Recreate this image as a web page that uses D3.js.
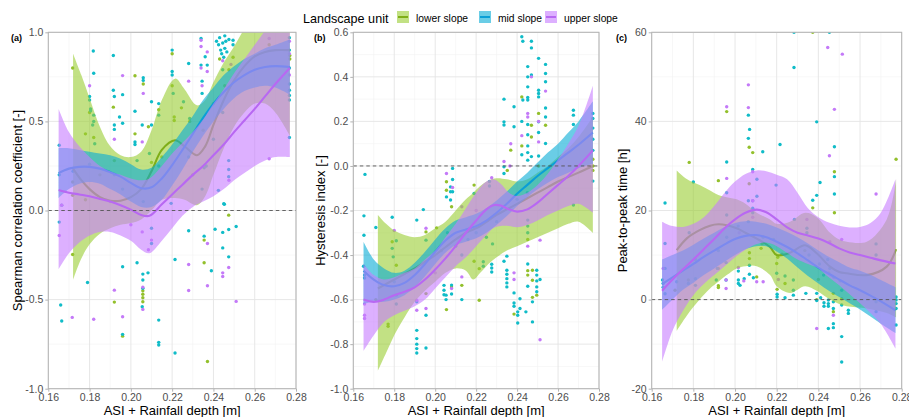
<!DOCTYPE html>
<html>
<head>
<meta charset="utf-8">
<script src="https://cdn.jsdelivr.net/npm/d3@7"></script>
<style>
  body { margin: 0; background: #fff; }
  svg { font-family: 'Liberation Sans', Arial, sans-serif; }
</style>
</head>
<body>
<div id="chart"></div>
<script>
'use strict';

// ---- data ----
const units = ['lower slope', 'mid slope', 'upper slope']
const xTicks = [0.16, 0.18, 0.20, 0.22, 0.24, 0.26, 0.28]
const yTicksA = [-1.0, -0.5, 0.0, 0.5, 1.0]
const yTicksB = [-1.0, -0.8, -0.6, -0.4, -0.2, 0.0, 0.2, 0.4, 0.6]
const yTicksC = [-20, 0, 20, 40, 60]

// points [x, y]
const ptsA_lower = [[0.1718,0.80],[0.180,0.55],[0.178,0.43],[0.182,0.41],[0.1915,0.58],[0.202,0.756],[0.202,0.43],[0.206,0.71],[0.2085,0.47],[0.2135,0.565],[0.22,0.88],[0.22,0.70],[0.221,0.525],[0.221,0.505],[0.2245,0.576],[0.2285,0.50],[0.243,0.85],[0.2475,0.79],[0.2495,0.86],[0.267,0.93],[0.277,0.87],[0.277,0.85],[0.1718,0.16],[0.1718,0.085],[0.1718,-0.247],[0.178,0.06],[0.192,-0.514],[0.196,-0.705],[0.2058,-0.45],[0.2058,-0.47],[0.2058,-0.49],[0.2058,-0.512],[0.2355,-0.166],[0.2355,-0.293],[0.2371,-0.847],[0.2474,-0.026],[0.21,0.27],[0.215,0.3],[0.192,0.28],[0.185,0.2],[0.23,0.2],[0.235,0.45],[0.24,0.6],[0.2455,0.7]]
const ptsA_mid = [[0.1653,0.366],[0.1653,-0.065],[0.166,-0.53],[0.1665,-0.62],[0.1818,0.895],[0.182,0.77],[0.180,0.64],[0.180,0.62],[0.1805,0.57],[0.1805,0.56],[0.182,0.535],[0.182,0.50],[0.1815,0.48],[0.1825,0.375],[0.179,-0.404],[0.1915,0.87],[0.1915,0.675],[0.192,0.64],[0.196,0.65],[0.1945,0.525],[0.192,0.48],[0.192,0.455],[0.196,0.49],[0.196,-0.316],[0.196,-0.695],[0.202,0.557],[0.202,0.385],[0.202,0.37],[0.203,-0.293],[0.206,0.745],[0.206,0.73],[0.2055,0.48],[0.2058,-0.357],[0.2058,-0.39],[0.2058,-0.437],[0.2055,-0.54],[0.2083,-0.35],[0.21,0.61],[0.21,0.48],[0.21,-0.185],[0.21,-0.1],[0.2135,0.60],[0.2135,0.535],[0.2135,-0.615],[0.2135,-0.74],[0.2135,-0.755],[0.22,0.90],[0.22,0.78],[0.22,0.76],[0.2205,0.657],[0.2214,-0.275],[0.2214,-0.80],[0.2255,0.61],[0.228,0.825],[0.2285,0.516],[0.228,-0.114],[0.234,0.965],[0.234,0.816],[0.2345,0.726],[0.2345,0.657],[0.2355,-0.144],[0.237,0.816],[0.236,0.863],[0.239,-0.338],[0.2408,-0.105],[0.2415,0.95],[0.2425,0.93],[0.243,0.97],[0.2435,0.90],[0.244,0.88],[0.2445,0.94],[0.245,0.86],[0.2455,0.98],[0.2455,0.91],[0.246,0.95],[0.2465,0.89],[0.2475,0.96],[0.2495,0.955],[0.2495,0.93],[0.2445,0.79],[0.2445,-0.123],[0.2445,-0.21],[0.2453,0.035],[0.2474,-0.107],[0.2474,-0.26],[0.251,-0.09],[0.2768,0.80],[0.2768,0.71],[0.2768,0.675],[0.2768,0.645],[0.2768,0.62],[0.2768,0.41],[0.2768,0.90],[0.2768,0.97],[0.1653,0.2],[0.1665,0.03],[0.172,0.22],[0.18,0.26],[0.192,0.2],[0.196,0.12],[0.203,0.28],[0.206,0.05],[0.209,0.32],[0.2135,0.25],[0.2195,0.04],[0.228,0.3],[0.2345,0.12],[0.2355,0.24],[0.2365,0.25],[0.24,0.4],[0.2445,0.55],[0.2424,0.113],[0.245,0.038],[0.2474,0.28],[0.2474,0.23],[0.2474,0.19]]
const ptsA_upper = [[0.1653,-0.14],[0.1665,0.03],[0.1716,-0.60],[0.180,0.70],[0.182,-0.61],[0.192,0.40],[0.192,-0.447],[0.196,0.757],[0.196,-0.596],[0.206,0.657],[0.2055,0.385],[0.2058,-0.43],[0.2058,-0.555],[0.21,-0.166],[0.228,0.726],[0.228,-0.303],[0.228,-0.449],[0.234,0.955],[0.234,0.92],[0.234,0.80],[0.2345,0.70],[0.237,0.78],[0.237,0.89],[0.2371,-0.185],[0.2371,-0.422],[0.2445,0.84],[0.2445,-0.37],[0.2445,-0.35],[0.2474,-0.32],[0.2485,0.82],[0.251,-0.51],[0.267,0.965],[0.267,0.29],[0.2768,0.95],[0.2768,0.88],[0.2768,0.76],[0.19,0.05],[0.2,-0.08],[0.2055,-0.12],[0.2475,0.17],[0.2085,-0.22]]

const ptsB_lower = [[0.2055,-0.071],[0.2055,-0.109],[0.208,-0.183],[0.219,-0.086],[0.2369,0.071],[0.2352,-0.02],[0.2423,0.31],[0.2423,0.09],[0.247,0.183],[0.247,0.13],[0.2505,0.236],[0.2539,0.183],[0.2505,0.0],[0.171,-0.6],[0.179,-0.34],[0.181,-0.446],[0.177,-0.72],[0.177,-0.71],[0.1955,-0.296],[0.1955,-0.573],[0.2007,-0.278],[0.2055,-0.645],[0.208,-0.543],[0.213,-0.536],[0.219,-0.428],[0.2215,-0.461],[0.2215,-0.603],[0.2385,-0.665],[0.2452,-0.33],[0.2452,-0.47],[0.2452,-0.49],[0.2475,-0.468],[0.2475,-0.513],[0.2475,-0.59],[0.2496,-0.58],[0.277,0.0],[0.277,-0.02],[0.277,0.03]]
const ptsB_mid = [[0.1657,-0.038],[0.1652,-0.224],[0.1652,-0.311],[0.1655,-0.503],[0.1655,-0.49],[0.171,-0.276],[0.179,-0.23],[0.179,-0.37],[0.1795,-0.408],[0.181,-0.336],[0.191,-0.243],[0.1942,-0.196],[0.1955,-0.333],[0.1955,-0.67],[0.1955,-0.817],[0.191,-0.61],[0.191,-0.738],[0.191,-0.775],[0.191,-0.80],[0.191,-0.82],[0.191,-0.84],[0.2075,-0.094],[0.2075,-0.116],[0.2055,-0.139],[0.2075,-0.153],[0.2085,-0.011],[0.2085,-0.061],[0.2085,-0.116],[0.219,-0.124],[0.2265,-0.07],[0.2265,-0.09],[0.2336,0.30],[0.2336,0.198],[0.2336,0.184],[0.2336,-0.004],[0.2336,-0.034],[0.2385,0.266],[0.2385,0.176],[0.2423,0.58],[0.2428,0.56],[0.2428,0.296],[0.2423,0.2],[0.2423,0.05],[0.2452,0.446],[0.2452,0.40],[0.2452,0.355],[0.2452,0.307],[0.2452,0.296],[0.2452,0.186],[0.2452,0.14],[0.2452,0.09],[0.2452,0.06],[0.2452,0.026],[0.247,0.56],[0.247,0.53],[0.247,0.408],[0.247,0.042],[0.2505,0.483],[0.2505,0.34],[0.2505,0.325],[0.2505,0.31],[0.2505,0.198],[0.2505,0.15],[0.2505,0.045],[0.2539,0.456],[0.2539,0.415],[0.2539,0.378],[0.2539,0.26],[0.2539,0.22],[0.2539,0.101],[0.2675,0.25],[0.2675,0.228],[0.2675,0.186],[0.277,0.236],[0.277,0.213],[0.277,0.17],[0.277,0.12],[0.277,0.07],[0.277,-0.068],[0.2043,-0.536],[0.2043,-0.558],[0.2043,-0.578],[0.2053,-0.58],[0.2053,-0.6],[0.208,-0.535],[0.208,-0.575],[0.213,-0.60],[0.2235,-0.43],[0.2235,-0.45],[0.2276,-0.441],[0.2276,-0.458],[0.2276,-0.476],[0.2336,-0.428],[0.235,-0.405],[0.235,-0.468],[0.235,-0.486],[0.235,-0.506],[0.235,-0.525],[0.235,-0.543],[0.2385,-0.57],[0.2385,-0.615],[0.2385,-0.63],[0.2403,-0.655],[0.2403,-0.67],[0.2403,-0.705],[0.2414,-0.596],[0.2414,-0.64],[0.2443,-0.655],[0.2452,-0.243],[0.2452,-0.27],[0.2452,-0.3],[0.2452,-0.44],[0.2452,-0.54],[0.2475,-0.61],[0.2475,-0.70],[0.2496,-0.468],[0.2496,-0.49],[0.2496,-0.516],[0.2496,-0.543],[0.2496,-0.565],[0.2512,-0.51],[0.2675,-0.175],[0.203,-0.38],[0.206,-0.3],[0.21,-0.36],[0.213,-0.4],[0.216,-0.33],[0.22,-0.3],[0.225,-0.32],[0.228,-0.35],[0.23,-0.25],[0.24,-0.15],[0.245,-0.12],[0.181,-0.58],[0.181,-0.62],[0.18,-0.52],[0.165,-0.45]]
const ptsB_upper = [[0.2055,-0.034],[0.2085,-0.097],[0.213,-0.183],[0.2276,-0.053],[0.2336,0.02],[0.2369,0.10],[0.2365,0.0],[0.2423,0.136],[0.2452,0.236],[0.2452,0.22],[0.247,0.40],[0.2505,0.108],[0.2539,0.336],[0.2505,0.2],[0.1655,-0.685],[0.1655,-0.67],[0.1655,-0.62],[0.191,-0.603],[0.191,-0.648],[0.1955,-0.64],[0.1955,-0.28],[0.208,-0.55],[0.213,-0.498],[0.2385,-0.48],[0.2385,-0.51],[0.2512,-0.333],[0.2512,-0.78],[0.2452,-0.36],[0.18,-0.29],[0.2,-0.48],[0.22,-0.2]]

const ptsC_lower = [[0.178,30.8],[0.192,26.7],[0.196,42.2],[0.2068,34.2],[0.2085,33.0],[0.2068,26.0],[0.2373,60],[0.2373,20.6],[0.2477,28.7],[0.2773,31.5],[0.1712,2.1],[0.1776,4.4],[0.192,7.0],[0.192,3.1],[0.192,2.7],[0.2069,10.5],[0.2069,9.2],[0.2104,5.1],[0.22,8.1],[0.2202,2.3],[0.224,3.6],[0.2392,0.0],[0.2472,-2.7],[0.2472,1.4],[0.2512,0.2],[0.2477,19.5],[0.213,12.5],[0.2125,11.5],[0.2205,9.5],[0.2225,10.2],[0.2335,11],[0.245,6],[0.24,4.5]]
const ptsC_mid = [[0.1664,21.7],[0.18,26.4],[0.196,30.9],[0.196,24.0],[0.2064,41.4],[0.207,38.2],[0.2064,36.2],[0.2085,29.2],[0.2105,27.0],[0.2064,22.2],[0.2085,22.2],[0.2105,23.2],[0.2133,33.2],[0.2216,34.8],[0.2197,25.7],[0.2283,52.1],[0.2283,60],[0.2453,60],[0.2392,39.9],[0.2408,26.3],[0.2392,23.4],[0.2373,22.3],[0.2477,34.3],[0.2477,27.6],[0.2477,23.7],[0.1664,12.6],[0.1652,4.4],[0.1655,3.6],[0.1655,2.8],[0.1664,1.3],[0.1776,3.6],[0.181,4.7],[0.181,3.2],[0.1915,7.0],[0.191,4.4],[0.1957,4.4],[0.1957,8.3],[0.2016,6.4],[0.2016,4.4],[0.2016,3.6],[0.2024,3.2],[0.2044,4.7],[0.2069,7.7],[0.2069,5.7],[0.2088,4.9],[0.22,5.9],[0.2202,1.2],[0.2202,0.6],[0.224,5.3],[0.224,0.4],[0.228,4.4],[0.228,2.1],[0.228,1.0],[0.234,1.4],[0.2392,1.4],[0.2392,-0.2],[0.2411,0.4],[0.2427,-1.5],[0.2427,-0.7],[0.2448,-0.1],[0.2448,-0.9],[0.2448,-1.5],[0.2448,-6.5],[0.2472,-0.5],[0.2472,-2.0],[0.2472,-5.4],[0.2472,-6.3],[0.2512,2.1],[0.2512,-1.2],[0.2512,-8.3],[0.2512,-14.0],[0.2544,-2.4],[0.2544,-3.1],[0.2773,0.6],[0.2773,-0.1],[0.2773,-0.9],[0.2773,-2.0],[0.2773,-5.7],[0.2677,-0.5],[0.2677,-2.7],[0.1664,7],[0.172,4],[0.178,15],[0.181,9],[0.192,11],[0.196,14],[0.196,19],[0.2015,16.5],[0.2064,17.5],[0.2085,19.5],[0.2085,20.5],[0.2135,14],[0.2185,13.5],[0.2285,18],[0.2345,16],[0.2345,15],[0.2355,10],[0.2405,8],[0.2425,5.5],[0.2445,9],[0.2455,7],[0.2475,5],[0.2505,4.2],[0.2677,12.5],[0.2677,10]]
const ptsC_upper = [[0.196,43.3],[0.196,27.2],[0.2064,48.2],[0.2064,43.1],[0.2085,28.7],[0.2085,22.2],[0.2445,56.6],[0.2515,55.1],[0.2453,32.3],[0.2477,42.7],[0.2677,23.7],[0.1655,7],[0.1957,4.4],[0.1957,2.5],[0.2016,7.2],[0.2042,4.2],[0.2104,4.0],[0.2135,4.0],[0.2392,-6.5],[0.2472,-3.5],[0.2208,4.5],[0.2085,18.5],[0.202,15],[0.2345,18],[0.2455,13],[0.2512,13.5]]

// smoothers [x, fit, lower CI, upper CI]
const smoothA_lower = [[0.172,0.235,-0.39,0.88],[0.176,0.17,-0.27,0.76],[0.18,0.12,-0.19,0.63],[0.185,0.075,-0.13,0.47],[0.19,0.055,-0.1,0.36],[0.195,0.055,-0.08,0.31],[0.2,0.075,-0.07,0.30],[0.205,0.12,-0.05,0.33],[0.21,0.22,0.0,0.45],[0.215,0.34,0.06,0.62],[0.2214,0.394,0.07,0.74],[0.226,0.36,0.06,0.68],[0.232,0.31,0.03,0.59],[0.236,0.36,0.08,0.62],[0.24,0.48,0.2,0.72],[0.245,0.62,0.35,0.83],[0.25,0.73,0.47,0.92],[0.255,0.81,0.55,1.02],[0.26,0.865,0.6,1.1],[0.265,0.89,0.6,1.18],[0.27,0.90,0.55,1.25],[0.277,0.90,0.42,1.35]]
const smoothA_mid = [[0.165,0.21,0.07,0.35],[0.17,0.235,0.12,0.35],[0.175,0.245,0.15,0.34],[0.18,0.245,0.16,0.33],[0.185,0.235,0.15,0.32],[0.19,0.215,0.12,0.31],[0.195,0.19,0.09,0.29],[0.2,0.155,0.05,0.26],[0.205,0.125,0.02,0.23],[0.21,0.13,0.02,0.24],[0.215,0.18,0.06,0.30],[0.22,0.255,0.14,0.37],[0.225,0.34,0.23,0.45],[0.23,0.43,0.33,0.53],[0.235,0.52,0.42,0.62],[0.24,0.60,0.5,0.69],[0.245,0.665,0.57,0.76],[0.25,0.72,0.63,0.81],[0.255,0.76,0.67,0.85],[0.26,0.79,0.69,0.88],[0.265,0.805,0.70,0.91],[0.27,0.81,0.69,0.93],[0.277,0.805,0.65,0.96]]
const smoothA_upper = [[0.165,0.115,-0.33,0.57],[0.17,0.10,-0.24,0.44],[0.175,0.09,-0.18,0.36],[0.18,0.08,-0.14,0.30],[0.185,0.065,-0.12,0.25],[0.19,0.05,-0.12,0.22],[0.195,0.03,-0.14,0.20],[0.2,0.005,-0.17,0.18],[0.205,-0.025,-0.22,0.17],[0.209,-0.03,-0.24,0.18],[0.215,0.035,-0.17,0.25],[0.22,0.09,-0.10,0.32],[0.225,0.145,-0.03,0.38],[0.23,0.2,0.02,0.44],[0.235,0.25,0.05,0.51],[0.24,0.31,0.08,0.6],[0.245,0.37,0.12,0.68],[0.25,0.44,0.17,0.77],[0.255,0.505,0.21,0.85],[0.26,0.57,0.25,0.93],[0.265,0.64,0.28,1.01],[0.27,0.71,0.30,1.1],[0.277,0.80,0.30,1.25]]

const smoothB_lower = [[0.172,-0.55,-0.92,-0.22],[0.176,-0.53,-0.84,-0.26],[0.18,-0.51,-0.76,-0.29],[0.185,-0.485,-0.68,-0.31],[0.19,-0.46,-0.61,-0.32],[0.195,-0.43,-0.56,-0.31],[0.2,-0.40,-0.52,-0.28],[0.205,-0.365,-0.48,-0.25],[0.21,-0.33,-0.46,-0.2],[0.215,-0.30,-0.47,-0.15],[0.2186,-0.285,-0.51,-0.12],[0.222,-0.27,-0.48,-0.09],[0.226,-0.245,-0.44,-0.065],[0.23,-0.22,-0.41,-0.055],[0.235,-0.195,-0.38,-0.06],[0.24,-0.17,-0.36,-0.07],[0.245,-0.145,-0.34,-0.06],[0.25,-0.12,-0.32,-0.03],[0.255,-0.095,-0.30,0.0],[0.26,-0.07,-0.28,0.04],[0.265,-0.05,-0.26,0.08],[0.27,-0.03,-0.25,0.13],[0.277,0.0,-0.30,0.22]]
const smoothB_mid = [[0.165,-0.47,-0.62,-0.34],[0.17,-0.51,-0.61,-0.42],[0.175,-0.535,-0.61,-0.46],[0.18,-0.54,-0.60,-0.48],[0.185,-0.525,-0.58,-0.47],[0.19,-0.49,-0.545,-0.435],[0.195,-0.44,-0.495,-0.385],[0.2,-0.385,-0.44,-0.33],[0.205,-0.335,-0.39,-0.28],[0.21,-0.30,-0.355,-0.245],[0.215,-0.285,-0.34,-0.23],[0.22,-0.27,-0.325,-0.215],[0.225,-0.245,-0.3,-0.19],[0.23,-0.21,-0.265,-0.155],[0.235,-0.17,-0.225,-0.115],[0.24,-0.125,-0.18,-0.07],[0.245,-0.085,-0.14,-0.03],[0.25,-0.045,-0.105,0.015],[0.255,-0.01,-0.075,0.06],[0.26,0.025,-0.05,0.1],[0.265,0.06,-0.03,0.15],[0.27,0.095,-0.01,0.2],[0.277,0.15,0.01,0.29]]
const smoothB_upper = [[0.165,-0.60,-0.83,-0.44],[0.17,-0.61,-0.76,-0.49],[0.175,-0.60,-0.70,-0.51],[0.18,-0.58,-0.67,-0.5],[0.185,-0.565,-0.65,-0.48],[0.19,-0.545,-0.63,-0.46],[0.195,-0.51,-0.6,-0.42],[0.2,-0.465,-0.55,-0.38],[0.205,-0.415,-0.50,-0.32],[0.21,-0.36,-0.45,-0.26],[0.215,-0.30,-0.41,-0.19],[0.22,-0.245,-0.36,-0.12],[0.225,-0.195,-0.31,-0.07],[0.2284,-0.176,-0.28,-0.06],[0.232,-0.178,-0.27,-0.08],[0.236,-0.195,-0.27,-0.12],[0.24,-0.205,-0.275,-0.135],[0.245,-0.195,-0.265,-0.12],[0.25,-0.165,-0.245,-0.085],[0.255,-0.125,-0.22,-0.035],[0.26,-0.085,-0.2,0.03],[0.265,-0.045,-0.18,0.1],[0.27,0.0,-0.17,0.18],[0.277,0.07,-0.21,0.36]]

const smoothC_lower = [[0.172,11.1,-7,29],[0.177,13.8,-3.5,27],[0.183,15.6,0,25.7],[0.188,16.6,2.5,24.5],[0.192,16.9,4,23.5],[0.196,16.7,5.5,23],[0.2008,16,7,22.5],[0.205,15,7.5,21.5],[0.2104,13.7,7.5,19.5],[0.2168,11.8,5.5,18],[0.22,10,3,17],[0.2264,10.5,1.5,17.5],[0.2336,12.2,3,19.5],[0.2392,10.4,2,18.5],[0.2456,7.4,0,15],[0.25,6.2,-1,13.5],[0.2536,5.9,-1.5,13],[0.2632,5.5,-2,13],[0.2728,7.4,-3,18],[0.2773,11.3,-4,27]]
const smoothC_mid = [[0.165,3.5,-2.3,9],[0.17,5,0,10],[0.175,6.5,2.2,11],[0.18,8,3.8,12.3],[0.185,9.6,5.5,13.7],[0.19,11,7,15],[0.195,12.4,8.5,16.3],[0.2,13.6,10,17.2],[0.205,14.3,11.3,17.6],[0.21,14.5,12,17.5],[0.215,14,12,17],[0.22,13,10.8,16.2],[0.225,11.8,9.2,15.2],[0.23,10.4,7.2,14],[0.235,8.8,5.3,12.6],[0.24,7.2,3.6,11],[0.245,5.8,2,9.6],[0.25,4.5,0.6,8.4],[0.255,3.2,-0.8,7.2],[0.26,2.1,-2.2,6.5],[0.265,0.9,-3.8,5.6],[0.27,-0.4,-5.4,4.4],[0.277,-2.4,-7.5,2.8]]
const smoothC_upper = [[0.165,2,-14,17.5],[0.17,4.5,-7,16.5],[0.175,6.8,-2.5,16.3],[0.18,9,1,17],[0.185,11.3,3.5,18.5],[0.19,13.6,5.5,21],[0.195,16,7.5,24],[0.2,18,9.5,26.5],[0.205,19.5,11.2,28.2],[0.2105,20.2,12.5,29],[0.215,19.6,12.8,28.8],[0.22,18,12,28],[0.225,16.2,10.5,27],[0.23,15,9,24],[0.235,14.4,8,20.5],[0.24,13.7,7,18.5],[0.245,12.7,5,17.3],[0.25,11.5,3.2,16.6],[0.255,10.6,1.2,16.2],[0.26,10,-0.8,16.3],[0.265,9.4,-3,17.2],[0.27,8.8,-5.5,19.5],[0.277,8.1,-11,27]]

// ---- style ----
const ptColors = ['#93c02c', '#10bcc8', '#c47af8']
const lineColors = ['#7fae18', '#0a9fd6', '#b868f2']
const fillColors = ['#9acd32', '#06acd6', '#c77cff']
const fillAlpha = 0.6

const dims = { width: 909, height: 417, top: 32.3, bottom: 388.7 }

const panels = [
  { left: 48.3, right: 296, label: '(a)', labelX: 11, yDomain: [-1, 1], yTicks: yTicksA,
    fmt: d => d.toFixed(1), ytitle: 'Spearman correlation coefficient [-]', titleX: 22,
    pts: [ptsA_lower, ptsA_mid, ptsA_upper], smooth: [smoothA_lower, smoothA_mid, smoothA_upper] },
  { left: 353.3, right: 599, label: '(b)', labelX: 314, yDomain: [-1, 0.6], yTicks: yTicksB,
    fmt: d => d.toFixed(1), ytitle: 'Hysteresis index [-]', titleX: 325,
    pts: [ptsB_lower, ptsB_mid, ptsB_upper], smooth: [smoothB_lower, smoothB_mid, smoothB_upper] },
  { left: 651.7, right: 901.7, label: '(c)', labelX: 616, yDomain: [-20, 60], yTicks: yTicksC,
    fmt: d => String(d), ytitle: 'Peak-to-peak time [h]', titleX: 627,
    pts: [ptsC_lower, ptsC_mid, ptsC_upper], smooth: [smoothC_lower, smoothC_mid, smoothC_upper] }
]

const svg = d3.select('#chart').append('svg')
  .attr('width', dims.width)
  .attr('height', dims.height)

// legend
const legend = svg.append('g')
legend.append('text')
  .attr('x', 303).attr('y', 23)
  .style('font-size', '12.6px')
  .attr('fill', '#000')
  .text('Landscape unit')
const keyX = [397, 479, 545]
units.forEach((u, i) => {
  const g = legend.append('g').attr('transform', `translate(${keyX[i]},11)`)
  g.append('rect').attr('width', 12).attr('height', 12).attr('fill', '#fff')
  g.append('rect').attr('width', 12).attr('height', 12)
    .attr('fill', fillColors[i]).attr('fill-opacity', fillAlpha)
  g.append('line').attr('x1', 1).attr('x2', 11).attr('y1', 6).attr('y2', 6)
    .attr('stroke', lineColors[i]).attr('stroke-width', 2)
  legend.append('text')
    .attr('x', keyX[i] + 19).attr('y', 21.5)
    .style('font-size', '10.3px')
    .attr('fill', '#000')
    .text(u)
})

panels.forEach((p, pi) => {
  const x = d3.scaleLinear().domain([0.16, 0.28]).range([p.left, p.right])
  const y = d3.scaleLinear().domain(p.yDomain).range([dims.bottom, dims.top])
  const g = svg.append('g')

  const clipId = 'clip' + pi
  svg.append('clipPath').attr('id', clipId)
    .append('rect')
    .attr('x', p.left).attr('y', dims.top)
    .attr('width', p.right - p.left).attr('height', dims.bottom - dims.top)

  // minor grid
  const yStep = p.yTicks[1] - p.yTicks[0]
  const yMinor = p.yTicks.slice(0, -1).map(d => d + yStep / 2)
  const xMinor = xTicks.slice(0, -1).map(d => d + 0.01)
  g.append('g').selectAll('line').data(xMinor).join('line')
    .attr('x1', d => x(d)).attr('x2', d => x(d))
    .attr('y1', dims.top).attr('y2', dims.bottom)
    .attr('stroke', '#f1f1f1').attr('stroke-width', 0.6)
  g.append('g').selectAll('line').data(yMinor).join('line')
    .attr('y1', d => y(d)).attr('y2', d => y(d))
    .attr('x1', p.left).attr('x2', p.right)
    .attr('stroke', '#f1f1f1').attr('stroke-width', 0.6)
  // major grid
  g.append('g').selectAll('line').data(xTicks).join('line')
    .attr('x1', d => x(d)).attr('x2', d => x(d))
    .attr('y1', dims.top).attr('y2', dims.bottom)
    .attr('stroke', '#e4e4e4').attr('stroke-width', 0.9)
  g.append('g').selectAll('line').data(p.yTicks).join('line')
    .attr('y1', d => y(d)).attr('y2', d => y(d))
    .attr('x1', p.left).attr('x2', p.right)
    .attr('stroke', '#e4e4e4').attr('stroke-width', 0.9)

  const plot = g.append('g').attr('clip-path', `url(#${clipId})`)

  // points
  p.pts.forEach((pts, i) => {
    plot.append('g').selectAll('circle').data(pts).join('circle')
      .attr('cx', d => x(d[0]))
      .attr('cy', d => y(d[1]))
      .attr('r', 1.7)
      .attr('fill', ptColors[i])
  })

  // smoothers: ribbon then line, group by group
  const area = d3.area()
    .x(d => x(d[0])).y0(d => y(d[2])).y1(d => y(d[3]))
    .curve(d3.curveCatmullRom.alpha(0.5))
  const line = d3.line()
    .x(d => x(d[0])).y(d => y(d[1]))
    .curve(d3.curveCatmullRom.alpha(0.5))
  p.smooth.forEach((s, i) => {
    plot.append('path').datum(s)
      .attr('d', area)
      .attr('fill', fillColors[i])
      .attr('fill-opacity', fillAlpha)
    plot.append('path').datum(s)
      .attr('d', line)
      .attr('fill', 'none')
      .attr('stroke', lineColors[i])
      .attr('stroke-width', 2.1)
  })

  // zero line
  g.append('line')
    .attr('x1', p.left).attr('x2', p.right)
    .attr('y1', y(0)).attr('y2', y(0))
    .attr('stroke', '#555').attr('stroke-width', 0.9)
    .attr('stroke-dasharray', '3.5,3')

  // border
  g.append('rect')
    .attr('x', p.left).attr('y', dims.top)
    .attr('width', p.right - p.left).attr('height', dims.bottom - dims.top)
    .attr('fill', 'none').attr('stroke', '#b3b3b3').attr('stroke-width', 1)

  // axes
  const xAxis = d3.axisBottom(x).tickValues(xTicks).tickFormat(d => d.toFixed(2))
    .tickSize(3).tickPadding(2)
  const xg = g.append('g').attr('transform', `translate(0,${dims.bottom})`).call(xAxis)
  const yAxis = d3.axisLeft(y).tickValues(p.yTicks).tickFormat(p.fmt)
    .tickSize(3).tickPadding(2)
  const yg = g.append('g').attr('transform', `translate(${p.left},0)`).call(yAxis)
  ;[xg, yg].forEach(ax => {
    ax.select('.domain').remove()
    ax.selectAll('.tick line').attr('stroke', '#b3b3b3')
    ax.selectAll('.tick text')
      .attr('fill', '#4d4d4d')
      .style('font-size', '10.5px')
      .style('font-family', "'Liberation Sans', Arial, sans-serif")
  })

  // titles
  g.append('text')
    .attr('x', (p.left + p.right) / 2).attr('y', 415)
    .attr('text-anchor', 'middle')
    .style('font-size', '13px')
    .text('ASI + Rainfall depth [m]')
  g.append('text')
    .attr('transform', `translate(${p.titleX},${(dims.top + dims.bottom) / 2}) rotate(-90)`)
    .attr('text-anchor', 'middle')
    .style('font-size', '13px')
    .text(p.ytitle)
  g.append('text')
    .attr('x', p.labelX).attr('y', 41)
    .style('font-size', '9px')
    .style('font-weight', 'bold')
    .text(p.label)
})
</script>
</body>
</html>
